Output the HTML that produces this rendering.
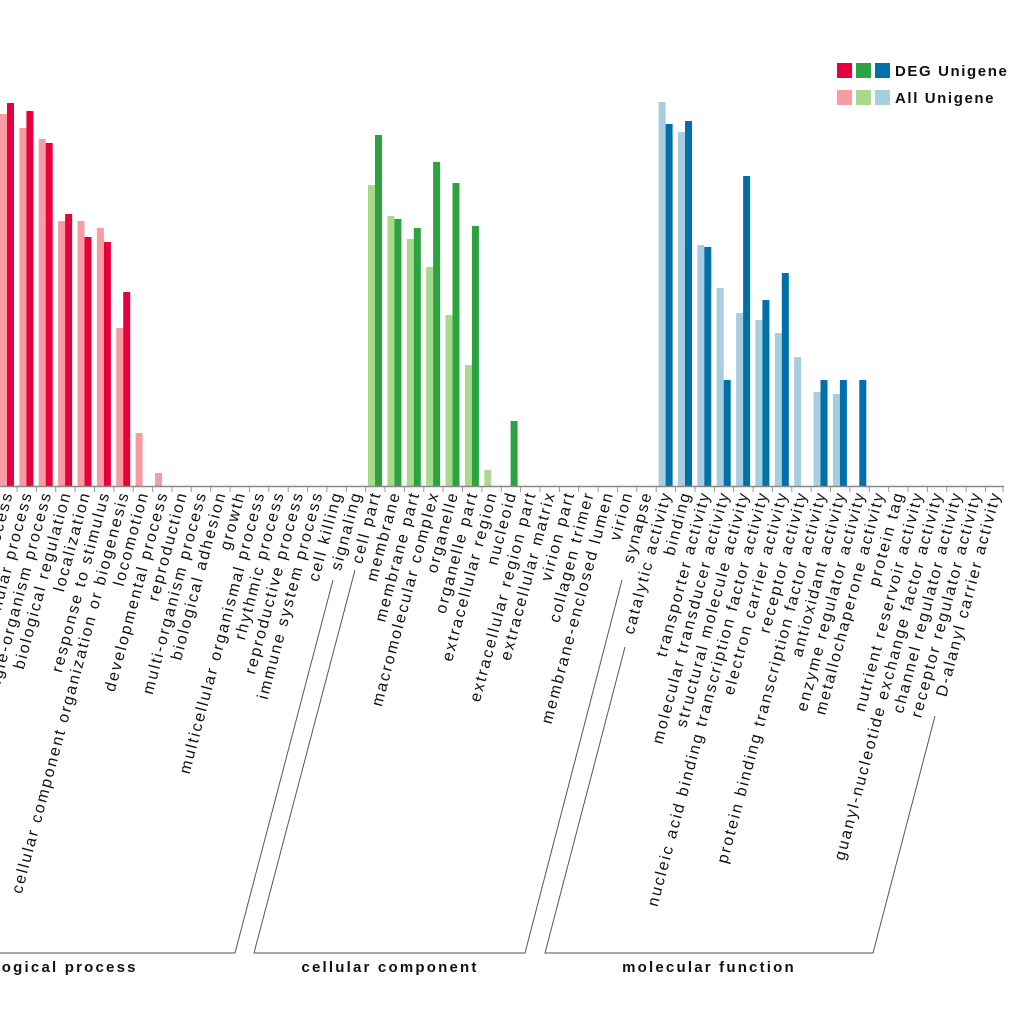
<!DOCTYPE html>
<html><head><meta charset="utf-8"><style>
html,body{margin:0;padding:0;background:#fff;}
svg{display:block;}
text{font-family:"Liberation Sans",sans-serif;}
.l{font-size:16px;fill:#111;letter-spacing:2px;}
.g{font-size:15px;font-weight:bold;fill:#111;letter-spacing:2.2px;}
</style></head><body>
<svg width="1024" height="1024" viewBox="0 0 1024 1024" xmlns="http://www.w3.org/2000/svg">
<g>
<rect x="0" y="114" width="7" height="372" fill="#f79ca3"/><rect x="7" y="103" width="7" height="383" fill="#e8003a"/>
<rect x="19.4" y="128" width="7" height="358" fill="#f79ca3"/><rect x="26.4" y="111" width="7" height="375" fill="#e8003a"/>
<rect x="38.7" y="139" width="7" height="347" fill="#f79ca3"/><rect x="45.7" y="143" width="7" height="343" fill="#e8003a"/>
<rect x="58.1" y="221" width="7" height="265" fill="#f79ca3"/><rect x="65.1" y="214" width="7" height="272" fill="#e8003a"/>
<rect x="77.5" y="221" width="7" height="265" fill="#f79ca3"/><rect x="84.5" y="237" width="7" height="249" fill="#e8003a"/>
<rect x="96.9" y="228" width="7" height="258" fill="#f79ca3"/><rect x="103.9" y="242" width="7" height="244" fill="#e8003a"/>
<rect x="116.2" y="328" width="7" height="158" fill="#f79ca3"/><rect x="123.2" y="292" width="7" height="194" fill="#e8003a"/>
<rect x="135.6" y="433" width="7" height="53" fill="#f79ca3"/>
<rect x="155" y="473" width="7" height="13" fill="#f79ca3"/>
<rect x="368" y="185" width="7" height="301" fill="#a9d98c"/><rect x="375" y="135" width="7" height="351" fill="#2ca33e"/>
<rect x="387.4" y="216" width="7" height="270" fill="#a9d98c"/><rect x="394.4" y="219" width="7" height="267" fill="#2ca33e"/>
<rect x="406.8" y="239" width="7" height="247" fill="#a9d98c"/><rect x="413.8" y="228" width="7" height="258" fill="#2ca33e"/>
<rect x="426.1" y="267" width="7" height="219" fill="#a9d98c"/><rect x="433.1" y="162" width="7" height="324" fill="#2ca33e"/>
<rect x="445.5" y="315" width="7" height="171" fill="#a9d98c"/><rect x="452.5" y="183" width="7" height="303" fill="#2ca33e"/>
<rect x="464.9" y="365" width="7" height="121" fill="#a9d98c"/><rect x="471.9" y="226" width="7" height="260" fill="#2ca33e"/>
<rect x="484.3" y="470" width="7" height="16" fill="#a9d98c"/>
<rect x="510.6" y="421" width="7" height="65" fill="#2ca33e"/>
<rect x="658.6" y="102" width="7" height="384" fill="#a7cde0"/><rect x="665.6" y="124" width="7" height="362" fill="#0070a8"/>
<rect x="678" y="132" width="7" height="354" fill="#a7cde0"/><rect x="685" y="121" width="7" height="365" fill="#0070a8"/>
<rect x="697.3" y="245" width="7" height="241" fill="#a7cde0"/><rect x="704.3" y="247" width="7" height="239" fill="#0070a8"/>
<rect x="716.7" y="288" width="7" height="198" fill="#a7cde0"/><rect x="723.7" y="380" width="7" height="106" fill="#0070a8"/>
<rect x="736.1" y="313" width="7" height="173" fill="#a7cde0"/><rect x="743.1" y="176" width="7" height="310" fill="#0070a8"/>
<rect x="755.4" y="320" width="7" height="166" fill="#a7cde0"/><rect x="762.4" y="300" width="7" height="186" fill="#0070a8"/>
<rect x="774.8" y="333" width="7" height="153" fill="#a7cde0"/><rect x="781.8" y="273" width="7" height="213" fill="#0070a8"/>
<rect x="794.2" y="357" width="7" height="129" fill="#a7cde0"/>
<rect x="813.5" y="392" width="7" height="94" fill="#a7cde0"/><rect x="820.5" y="380" width="7" height="106" fill="#0070a8"/>
<rect x="832.9" y="394" width="7" height="92" fill="#a7cde0"/><rect x="839.9" y="380" width="7" height="106" fill="#0070a8"/>
<rect x="859.3" y="380" width="7" height="106" fill="#0070a8"/>
</g>
<line x1="0" y1="486.5" x2="1004" y2="486.5" stroke="#888" stroke-width="1.5"/>
<path stroke="#999" stroke-width="1" d="M17 487v5M36.4 487v5M55.7 487v5M75.1 487v5M94.5 487v5M113.9 487v5M133.2 487v5M152.6 487v5M172 487v5M191.3 487v5M210.7 487v5M230.1 487v5M249.4 487v5M268.8 487v5M288.2 487v5M307.6 487v5M326.9 487v5M346.3 487v5M365.7 487v5M385 487v5M404.4 487v5M423.8 487v5M443.1 487v5M462.5 487v5M481.9 487v5M501.3 487v5M520.6 487v5M540 487v5M559.4 487v5M578.7 487v5M598.1 487v5M617.5 487v5M636.8 487v5M656.2 487v5M675.6 487v5M695 487v5M714.3 487v5M733.7 487v5M753.1 487v5M772.4 487v5M791.8 487v5M811.2 487v5M830.5 487v5M849.9 487v5M869.3 487v5M888.7 487v5M908 487v5M927.4 487v5M946.8 487v5M966.1 487v5M985.5 487v5M1003 487v5"/>
<g class="l" text-anchor="end">
<text transform="translate(13,493) rotate(-75)">metabolic process</text>
<text transform="translate(32.4,493) rotate(-75)">cellular process</text>
<text transform="translate(51.7,493) rotate(-75)">single-organism process</text>
<text transform="translate(71.1,493) rotate(-75)">biological regulation</text>
<text transform="translate(90.5,493) rotate(-75)">localization</text>
<text transform="translate(109.9,493) rotate(-75)">response to stimulus</text>
<text transform="translate(129.2,493) rotate(-75)">cellular component organization or biogenesis</text>
<text transform="translate(148.6,493) rotate(-75)">locomotion</text>
<text transform="translate(168,493) rotate(-75)">developmental process</text>
<text transform="translate(187.3,493) rotate(-75)">reproduction</text>
<text transform="translate(206.7,493) rotate(-75)">multi-organism process</text>
<text transform="translate(226.1,493) rotate(-75)">biological adhesion</text>
<text transform="translate(245.4,493) rotate(-75)">growth</text>
<text transform="translate(264.8,493) rotate(-75)">multicellular organismal process</text>
<text transform="translate(284.2,493) rotate(-75)">rhythmic process</text>
<text transform="translate(303.6,493) rotate(-75)">reproductive process</text>
<text transform="translate(322.9,493) rotate(-75)">immune system process</text>
<text transform="translate(342.3,493) rotate(-75)">cell killing</text>
<text transform="translate(361.7,493) rotate(-75)">signaling</text>
<text transform="translate(381,493) rotate(-75)">cell part</text>
<text transform="translate(400.4,493) rotate(-75)">membrane</text>
<text transform="translate(419.8,493) rotate(-75)">membrane part</text>
<text transform="translate(439.1,493) rotate(-75)">macromolecular complex</text>
<text transform="translate(458.5,493) rotate(-75)">organelle</text>
<text transform="translate(477.9,493) rotate(-75)">organelle part</text>
<text transform="translate(497.3,493) rotate(-75)">extracellular region</text>
<text transform="translate(516.6,493) rotate(-75)">nucleoid</text>
<text transform="translate(536,493) rotate(-75)">extracellular region part</text>
<text transform="translate(555.4,493) rotate(-75)">extracellular matrix</text>
<text transform="translate(574.7,493) rotate(-75)">virion part</text>
<text transform="translate(594.1,493) rotate(-75)">collagen trimer</text>
<text transform="translate(613.5,493) rotate(-75)">membrane-enclosed lumen</text>
<text transform="translate(632.8,493) rotate(-75)">virion</text>
<text transform="translate(652.2,493) rotate(-75)">synapse</text>
<text transform="translate(671.6,493) rotate(-75)">catalytic activity</text>
<text transform="translate(691,493) rotate(-75)">binding</text>
<text transform="translate(710.3,493) rotate(-75)">transporter activity</text>
<text transform="translate(729.7,493) rotate(-75)">molecular transducer activity</text>
<text transform="translate(749.1,493) rotate(-75)">structural molecule activity</text>
<text transform="translate(768.4,493) rotate(-75)">nucleic acid binding transcription factor activity</text>
<text transform="translate(787.8,493) rotate(-75)">electron carrier activity</text>
<text transform="translate(807.2,493) rotate(-75)">receptor activity</text>
<text transform="translate(826.5,493) rotate(-75)">protein binding transcription factor activity</text>
<text transform="translate(845.9,493) rotate(-75)">antioxidant activity</text>
<text transform="translate(865.3,493) rotate(-75)">enzyme regulator activity</text>
<text transform="translate(884.7,493) rotate(-75)">metallochaperone activity</text>
<text transform="translate(904,493) rotate(-75)">protein tag</text>
<text transform="translate(923.4,493) rotate(-75)">nutrient reservoir activity</text>
<text transform="translate(942.8,493) rotate(-75)">guanyl-nucleotide exchange factor activity</text>
<text transform="translate(962.1,493) rotate(-75)">channel regulator activity</text>
<text transform="translate(981.5,493) rotate(-75)">receptor regulator activity</text>
<text transform="translate(1000.9,493) rotate(-75)">D-alanyl carrier activity</text>
</g>
<g fill="none" stroke="#555" stroke-width="1">
<polyline points="0,953 235,953 333,580"/>
<polyline points="355,570 254,953 525,953 622,580"/>
<polyline points="625,647 545,953 873,953 935,716"/>
</g>
<text class="g" x="52" y="972" text-anchor="middle">biological process</text>
<text class="g" x="390" y="972" text-anchor="middle">cellular component</text>
<text class="g" x="709" y="972" text-anchor="middle">molecular function</text>
<rect x="837" y="63" width="15" height="15" fill="#e8003a"/>
<rect x="856" y="63" width="15" height="15" fill="#2ca33e"/>
<rect x="875" y="63" width="15" height="15" fill="#0070a8"/>
<rect x="837" y="90" width="15" height="15" fill="#f79ca3"/>
<rect x="856" y="90" width="15" height="15" fill="#a9d98c"/>
<rect x="875" y="90" width="15" height="15" fill="#a7cde0"/>
<text x="895" y="76" style="font-size:15px;font-weight:bold;fill:#111;letter-spacing:1.6px;">DEG Unigene</text>
<text x="895" y="103" style="font-size:15px;font-weight:bold;fill:#111;letter-spacing:1.6px;">All Unigene</text>
</svg>
</body></html>
